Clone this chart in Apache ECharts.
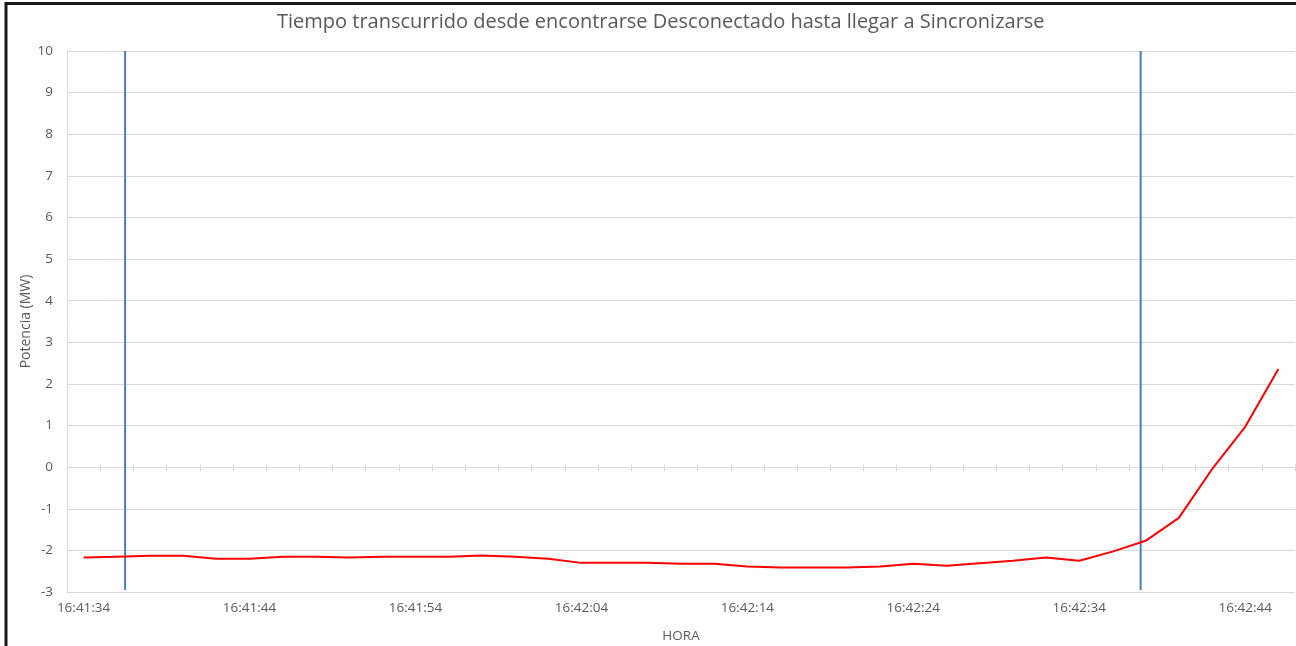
<!DOCTYPE html>
<html>
<head>
<meta charset="utf-8">
<title>Tiempo transcurrido</title>
<script src="https://cdn.jsdelivr.net/npm/echarts@6/dist/echarts.min.js"></script>
<style>
  html, body { margin: 0; padding: 0; background: #ffffff; }
  #chart { width: 1296px; height: 646px; }
</style>
</head>
<body>
<div id="chart"></div>
<script>
// Sample times (one reading every 2 s)
const horas = ['16:41:34','16:41:36','16:41:38','16:41:40','16:41:42','16:41:44','16:41:46','16:41:48','16:41:50','16:41:52','16:41:54','16:41:56','16:41:58','16:42:00','16:42:02','16:42:04','16:42:06','16:42:08','16:42:10','16:42:12','16:42:14','16:42:16','16:42:18','16:42:20','16:42:22','16:42:24','16:42:26','16:42:28','16:42:30','16:42:32','16:42:34','16:42:36','16:42:38','16:42:40','16:42:42','16:42:44','16:42:46'];

// Active power in MW
const potenciaMW = [-2.17,-2.15,-2.13,-2.13,-2.20,-2.20,-2.15,-2.15,-2.17,-2.15,-2.15,-2.15,-2.12,-2.15,-2.20,-2.30,-2.30,-2.30,-2.32,-2.32,-2.39,-2.41,-2.41,-2.41,-2.39,-2.32,-2.37,-2.31,-2.25,-2.17,-2.25,-2.03,-1.77,-1.22,-0.05,0.97,2.36];

// Event markers: seconds after 16:41:00 (disconnected / synchronised)
const eventoSegundos = [36.5, 97.7];
const eventoTope = 10;
const eventoBase = -2.95;

// y-axis scale
const yMin = -3, yMax = 10, yStep = 1;

const textColor = '#595959';
const gridColor = '#d9d9d9';
const font = 'Open Sans';

// Hidden seconds axis spans the same width as the category band
const segInicio = 33, segFin = 33 + horas.length * 2;

const eventSeries = eventoSegundos.map((s, i) => ({
  type: 'line',
  name: 'evento' + i,
  xAxisIndex: 3,
  yAxisIndex: 0,
  data: [[s, eventoTope], [s, eventoBase]],
  symbol: 'none',
  lineStyle: { color: '#4a7ebb', width: 2 },
  silent: true,
  z: 3
}));

const chart = echarts.init(document.getElementById('chart'));
chart.setOption({
  animation: false,
  backgroundColor: '#ffffff',
  textStyle: { fontFamily: font },
  title: {
    text: 'Tiempo transcurrido desde encontrarse Desconectado hasta llegar a Sincronizarse',
    left: 272,
    top: 7,
    textStyle: { fontFamily: font, fontSize: 20, fontWeight: 'normal', color: textColor }
  },
  grid: { left: 67, right: 1, top: 51, bottom: 54, containLabel: false, outerBoundsMode: 'none' },
  xAxis: [
    {
      // labels along the bottom edge
      type: 'category',
      data: horas,
      position: 'bottom',
      boundaryGap: true,
      axisLine: { show: false, onZero: false },
      axisTick: { show: false },
      axisLabel: { interval: 4, color: textColor, fontSize: 13.5, fontFamily: font, margin: 9 },
      splitLine: { show: false },
      name: 'HORA',
      nameLocation: 'middle',
      nameGap: 37,
      nameMoveOverlap: false,
      nameTextStyle: { color: textColor, fontSize: 13.5, fontFamily: font }
    },
    {
      // horizontal axis line crossing at zero, ticks below
      type: 'category',
      data: horas,
      position: 'bottom',
      boundaryGap: true,
      axisLine: { show: true, onZero: true, onZeroAxisIndex: 0, lineStyle: { color: gridColor, width: 1 } },
      axisTick: { show: true, interval: 0, inside: false, length: 4, lineStyle: { color: gridColor } },
      axisLabel: { show: false },
      splitLine: { show: false }
    },
    {
      // ticks above the zero line
      type: 'category',
      data: horas,
      position: 'bottom',
      boundaryGap: true,
      axisLine: { show: false, onZero: true, onZeroAxisIndex: 0 },
      axisTick: { show: true, interval: 0, inside: true, length: 3, lineStyle: { color: gridColor } },
      axisLabel: { show: false },
      splitLine: { show: false }
    },
    {
      // seconds scale for the event markers
      type: 'value',
      min: segInicio,
      max: segFin,
      show: false,
      axisLine: { onZero: false }
    }
  ],
  yAxis: [{
    type: 'value',
    min: yMin,
    max: yMax,
    interval: yStep,
    axisLine: { show: true, onZero: false, lineStyle: { color: gridColor } },
    axisTick: { show: false },
    axisLabel: { color: textColor, fontSize: 13.5, fontFamily: font, margin: 14 },
    splitLine: { show: true, lineStyle: { color: gridColor, width: 1 } },
    name: 'Potencia (MW)',
    nameLocation: 'middle',
    nameGap: 34,
    nameMoveOverlap: false,
    nameTextStyle: { color: textColor, fontSize: 14, fontFamily: font }
  }],
  series: [
    {
      type: 'line',
      name: 'Potencia',
      xAxisIndex: 0,
      yAxisIndex: 0,
      data: potenciaMW,
      symbol: 'none',
      smooth: false,
      lineStyle: { color: '#ff0000', width: 2 },
      z: 4
    }
  ].concat(eventSeries),
  graphic: [
    {
      type: 'polyline',
      shape: { points: [[6, 646], [6, 3.5], [1296, 3.5]] },
      style: { stroke: '#1a1a1a', lineWidth: 3, fill: null },
      silent: true
    }
  ]
});
</script>
</body>
</html>
